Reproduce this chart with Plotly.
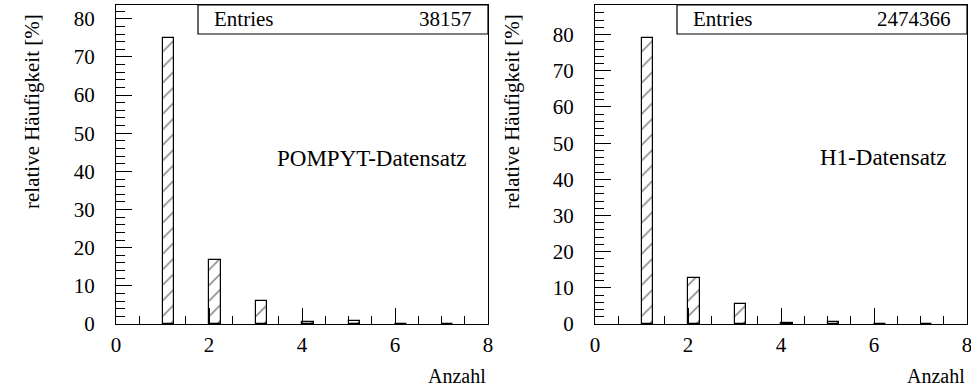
import plotly.graph_objects as go

# Data
bin_left = [1, 2, 3, 4, 5, 6, 7]
pompyt_pct = [74.9, 16.7, 6.0, 0.6, 0.7, 0.1, 0.1]
h1_pct = [79.0, 12.7, 5.6, 0.3, 0.6, 0.1, 0.1]
entries = ["38157", "2474366"]
labels = ["POMPYT-Datensatz", "H1-Datensatz"]
y_max = [83.6, 88.2]
x_ticks = [0, 2, 4, 6, 8]
y_ticks = [0, 10, 20, 30, 40, 50, 60, 70, 80]

FONT = "Liberation Serif"
TXT = dict(family=FONT, size=21, color="black")
fig = go.Figure()

doms = [(116/971, 488/971), (595/971, 967/971)]
ydom = (64/388, 383/388)

for i, vals in enumerate([pompyt_pct, h1_pct]):
    xa = "x" if i == 0 else "x2"
    ya = "y" if i == 0 else "y2"
    fig.add_trace(go.Bar(
        x=bin_left, y=vals, width=0.25, offset=0,
        xaxis=xa, yaxis=ya,
        marker=dict(color="white", line=dict(color="black", width=1.2),
                    pattern=dict(shape="/", fgcolor="black", bgcolor="white",
                                 size=11, solidity=0.14)),
        showlegend=False, hoverinfo="skip"))

axis_common = dict(showline=True, linecolor="black", linewidth=1.2, mirror=True,
                   showgrid=False, zeroline=False, ticks="inside",
                   tickcolor="black", tickwidth=1.2, automargin=False,
                   ticklabeloverflow="allow",
                   tickfont=TXT)

for i in range(2):
    sfx = "" if i == 0 else "2"
    fig.update_layout(**{
        "xaxis" + sfx: dict(axis_common, domain=doms[i], range=[0, 8],
                            anchor="y" + sfx, tickvals=x_ticks, ticklen=16,
                            ticklabelstandoff=2,
                            minor=dict(dtick=0.5, ticklen=8, ticks="inside",
                                       tickcolor="black", tickwidth=1.2)),
        "yaxis" + sfx: dict(axis_common, domain=ydom, range=[0, y_max[i]],
                            anchor="x" + sfx, tickvals=y_ticks, ticklen=16,
                            ticklabelstandoff=16,
                            minor=dict(dtick=2, ticklen=9, ticks="inside",
                                       tickcolor="black", tickwidth=1.2)),
    })

shapes = []
annotations = []
box_left = [198, 677]
label_y = [43.5, 45.9]
for i in range(2):
    sfx = "" if i == 0 else "2"
    x0 = (box_left[i] - 971 * doms[i][0]) / (971 * (doms[i][1] - doms[i][0]))
    shapes.append(dict(type="rect", xref="x" + sfx + " domain", yref="y" + sfx + " domain",
                       x0=x0, x1=1, y0=1 - 29/319, y1=1,
                       line=dict(color="black", width=1.2), fillcolor="white"))
    annotations.append(dict(xref="x" + sfx + " domain", yref="y" + sfx + " domain",
                            x=x0 + 14/372, y=1 - 14.5/319, text="Entries", showarrow=False,
                            xanchor="left", yanchor="middle", font=TXT))
    annotations.append(dict(xref="x" + sfx + " domain", yref="y" + sfx + " domain",
                            x=1 - 14/372, y=1 - 14.5/319, text=entries[i], showarrow=False,
                            xanchor="right", yanchor="middle", font=TXT))
    annotations.append(dict(xref="x" + sfx, yref="y" + sfx, x=7.6,
                            y=label_y[i], text=labels[i], showarrow=False,
                            xanchor="right", yanchor="middle",
                            font=dict(family=FONT, size=23, color="black")))
    annotations.append(dict(xref="x" + sfx + " domain", yref="paper", x=1, y=12/388,
                            text="Anzahl", showarrow=False, xanchor="right",
                            yanchor="middle",
                            font=dict(family=FONT, size=20, color="black")))
    annotations.append(dict(xref="paper", yref="paper", x=[32, 512][i]/971,
                            y=(388 - 112)/388, text="relative Häufigkeit [%]",
                            showarrow=False, textangle=-90, xanchor="center",
                            yanchor="middle", font=TXT))

fig.update_layout(width=971, height=388, margin=dict(l=0, r=0, t=0, b=0),
                  paper_bgcolor="white", plot_bgcolor="white",
                  font=dict(family=FONT, color="black"),
                  shapes=shapes, annotations=annotations, bargap=0)

fig.write_html("out.html")
